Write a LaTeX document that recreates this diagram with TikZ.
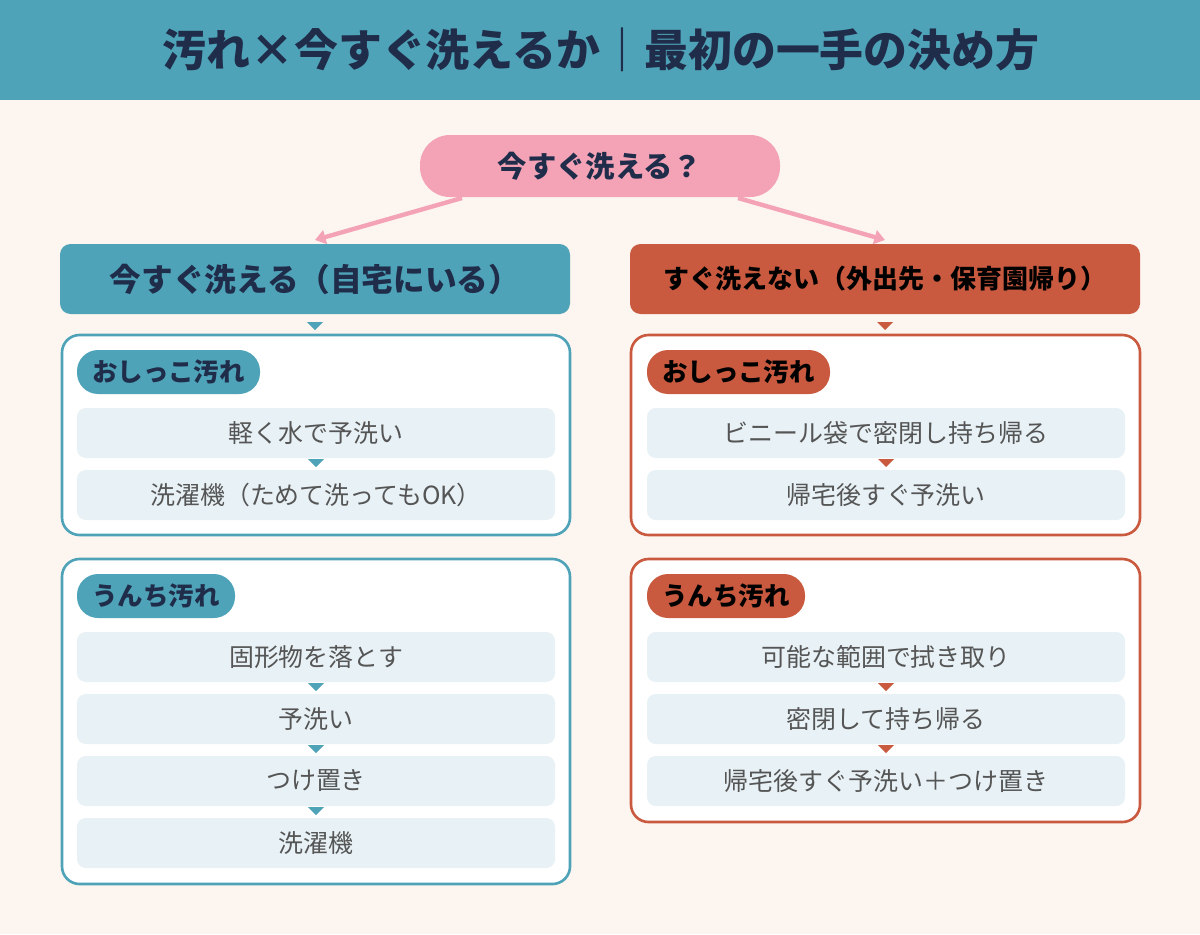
\documentclass[tikz,border=0pt]{standalone}
\usepackage{fontspec}
\setmainfont{Noto Sans CJK JP}
\usetikzlibrary{arrows.meta,calc}
\definecolor{bgcol}{HTML}{FDF6F0}
\definecolor{tealc}{HTML}{4FA3B8}
\definecolor{redc}{HTML}{C95A3F}
\definecolor{pinkc}{HTML}{F4A3B7}
\definecolor{navyc}{HTML}{1F2D4A}
\definecolor{stepc}{HTML}{E8F2F6}
\definecolor{textc}{HTML}{555555}
\tikzset{
  stepbox/.style={fill=stepc, rounded corners=5pt, text=textc, minimum width=478*0.02cm, minimum height=50*0.02cm, font=\fontsize{14.2}{16}\selectfont},
  tag/.style={rounded corners=12pt, text=navyc, minimum height=44*0.02cm, font=\bfseries\fontsize{14.5}{16}\selectfont},
  panel/.style={line width=1.5pt, fill=white, rounded corners=10pt},
}
\newcommand{\downtri}[3]{\fill[#3] ($(#1,#2)+(-8,0)$) -- ($(#1,#2)+(8,0)$) -- ($(#1,#2)+(0,8)$) -- cycle;}
\begin{document}
\begin{tikzpicture}[x=0.02cm,y=-0.02cm]
\fill[bgcol] (0,0) rectangle (1200,934);
\useasboundingbox (0,0) rectangle (1200,934);
% header
\fill[tealc] (0,0) rectangle (1200,100);
\node[text=navyc, font=\bfseries\fontsize{25}{28}\selectfont] (title) at (601,50) {汚れ×今すぐ洗えるか｜最初の一手の決め方};
% question
\node[fill=pinkc, rounded corners=17pt, minimum width=360*0.02cm, minimum height=62*0.02cm, text=navyc, font=\bfseries\fontsize{16.7}{18}\selectfont] (q) at (600,166) {今すぐ洗える？};
\coordinate (ql) at (462,198);
\coordinate (qr) at (738,198);
\coordinate (al) at (315,240);
\coordinate (ar) at (885,240);
\draw[pinkc, line width=2.5pt, -{Triangle[length=6pt,width=8pt]}] (ql) -- (al);
\draw[pinkc, line width=2.5pt, -{Triangle[length=6pt,width=8pt]}] (qr) -- (ar);
% branch heads
\node[fill=tealc, rounded corners=6pt, minimum width=510*0.02cm, minimum height=70*0.02cm, text=navyc, font=\bfseries\fontsize{18}{20}\selectfont] (home) at (315,279) {今すぐ洗える（自宅にいる）};
\node[fill=redc, rounded corners=6pt, minimum width=510*0.02cm, minimum height=70*0.02cm, text=black, font=\bfseries\fontsize{14.8}{17}\selectfont] (out) at (885,279) {すぐ洗えない（外出先・保育園帰り）};
\downtri{315}{322}{tealc}
\downtri{885}{322}{redc}
% left panels
\draw[panel, draw=tealc] (62,335) rectangle (570,535);
\draw[panel, draw=tealc] (62,559) rectangle (570,884);
\node[tag, fill=tealc, minimum width=183*0.02cm] (lp) at (168.5,372) {おしっこ汚れ};
\node[stepbox] (l1) at (316,433) {軽く水で予洗い};
\node[stepbox] (l2) at (316,495) {洗濯機（ためて洗ってもOK）};
\downtri{316}{459}{tealc}
\node[tag, fill=tealc, minimum width=158*0.02cm] (lu) at (156,596) {うんち汚れ};
\node[stepbox] (l3) at (316,657) {固形物を落とす};
\node[stepbox] (l4) at (316,719) {予洗い};
\node[stepbox] (l5) at (316,781) {つけ置き};
\node[stepbox] (l6) at (316,843) {洗濯機};
\downtri{316}{683}{tealc}
\downtri{316}{745}{tealc}
\downtri{316}{807}{tealc}
% right panels
\draw[panel, draw=redc] (631,335) rectangle (1140,535);
\draw[panel, draw=redc] (631,559) rectangle (1140,822);
\node[tag, fill=redc, text=black, minimum width=183*0.02cm] (rp) at (738.5,372) {おしっこ汚れ};
\node[stepbox] (r1) at (886,433) {ビニール袋で密閉し持ち帰る};
\node[stepbox] (r2) at (886,495) {帰宅後すぐ予洗い};
\downtri{886}{459}{redc}
\node[tag, fill=redc, text=black, minimum width=158*0.02cm] (ru) at (726,596) {うんち汚れ};
\node[stepbox] (r3) at (886,657) {可能な範囲で拭き取り};
\node[stepbox] (r4) at (886,719) {密閉して持ち帰る};
\node[stepbox] (r5) at (886,781) {帰宅後すぐ予洗い＋つけ置き};
\downtri{886}{683}{redc}
\downtri{886}{745}{redc}
\end{tikzpicture}
\end{document}
